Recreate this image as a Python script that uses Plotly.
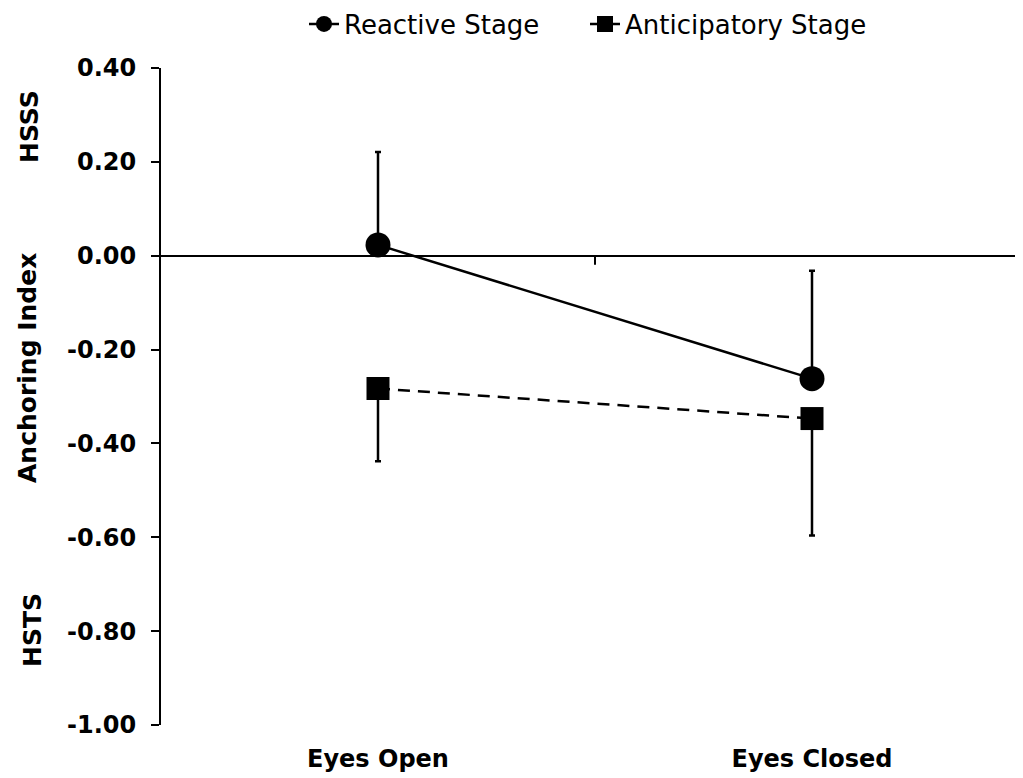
import plotly.graph_objects as go

categories = ["Eyes Open", "Eyes Closed"]
reactive = [0.023, -0.262]
reactive_err_up = [0.198, 0.230]
anticip = [-0.283, -0.347]
anticip_err_down = [0.155, 0.249]
y_ticks = [0.4, 0.2, 0.0, -0.2, -0.4, -0.6, -0.8, -1.0]
y_ticktext = ["0.40", "0.20", "0.00", "-0.20", "-0.40", "-0.60", "-0.80", "-1.00"]

FONT = "DejaVu Sans"
OFF = 8  # page body margin

# page-pixel geometry of the plot area
PX_L, PX_R, PX_T, PX_B = 161, 1023, 68, 725
W, H = 1023 - OFF, 778 - OFF
L, T = PX_L - OFF, PX_T - OFF
R = W - (PX_R - OFF)
B = H - (PX_B - OFF)

def px_to_paper(x, y):
    return (x - PX_L) / (PX_R - PX_L), 1 - (y - PX_T) / (PX_B - PX_T)

fig = go.Figure()
fig.add_trace(go.Scatter(
    x=[0, 1], y=reactive, name="Reactive Stage", mode="lines+markers",
    line=dict(color="black", width=2.5),
    marker=dict(symbol="circle", size=25, color="black"),
    error_y=dict(type="data", symmetric=False, array=reactive_err_up,
                 arrayminus=[0, 0], color="black", thickness=2.5, width=3),
))
fig.add_trace(go.Scatter(
    x=[0, 1], y=anticip, name="Anticipatory Stage", mode="lines+markers",
    line=dict(color="black", width=2.5, dash="12px,8px"),
    marker=dict(symbol="square", size=23, color="black"),
    error_y=dict(type="data", symmetric=False, array=[0, 0],
                 arrayminus=anticip_err_down, color="black", thickness=2.5, width=3),
))

# tick mark between categories on the zero axis
fig.add_shape(type="line", x0=0.5, x1=0.5, y0=0, y1=-0.019, xref="x", yref="y",
              line=dict(color="black", width=2))

for txt, px, py in [("Anchoring Index", 27, 368), ("HSSS", 30, 127), ("HSTS", 32, 630)]:
    ax, ay = px_to_paper(px, py)
    fig.add_annotation(text="<b>" + txt + "</b>", x=ax, y=ay, xref="paper", yref="paper",
                       xanchor="center", yanchor="middle",
                       showarrow=False, textangle=-90,
                       font=dict(family=FONT, size=25, color="black"))

fig.update_layout(
    width=W, height=H,
    margin=dict(l=L, r=R, t=T, b=B, autoexpand=False),
    paper_bgcolor="white", plot_bgcolor="white",
    font=dict(family=FONT, color="black"),
    showlegend=True,
    legend=dict(orientation="h", xref="container", yref="container",
                x=(304 - OFF) / W, xanchor="left", y=1 - (24 - OFF) / H,
                yanchor="middle", font=dict(family=FONT, size=26, color="black"),
                entrywidth=236, tracegroupgap=0),
    xaxis=dict(range=[-0.5, -0.5 + (PX_R - PX_L) / 434], showline=False, showgrid=False,
               zeroline=False, ticks="", tickfont=dict(family=FONT, size=24, color="black"),
               tickvals=[0, 1], ticktext=["<b>" + c + "</b>" for c in categories],
               ticklabelstandoff=17),
    yaxis=dict(range=[-1.0, 0.4], showline=True, linecolor="black", linewidth=2,
               ticks="outside", ticklen=8, tickwidth=2, tickcolor="black",
               tickvals=y_ticks, ticktext=["<b>" + t + "</b>" for t in y_ticktext],
               tickfont=dict(family=FONT, size=24, color="black"),
               showgrid=False, zeroline=True, zerolinecolor="black", zerolinewidth=2,
               ticklabelstandoff=10),
)

fig.write_html("out.html")
